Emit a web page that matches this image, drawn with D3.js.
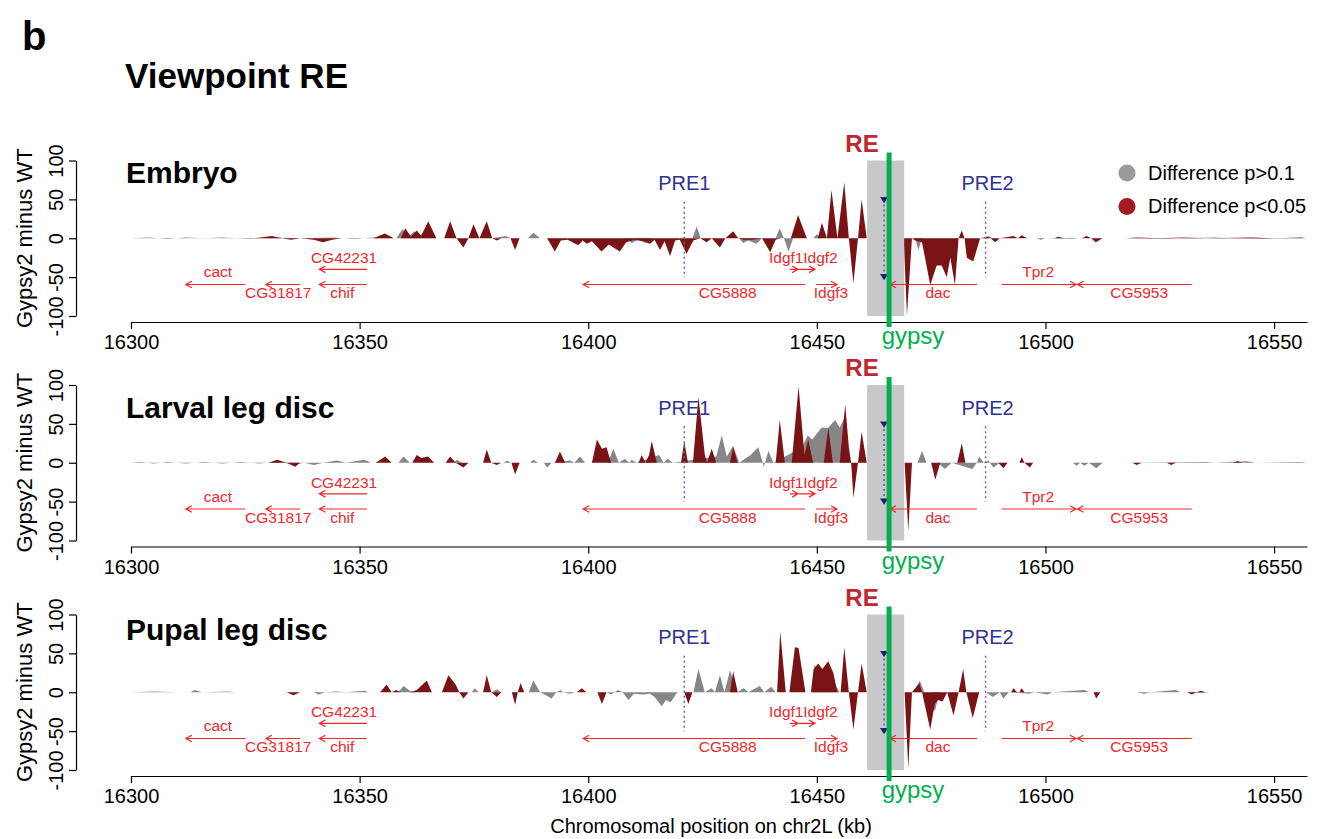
<!DOCTYPE html>
<html lang="en">
<head>
<meta charset="UTF-8">
<title>Viewpoint RE</title>
<script src="https://d3js.org/d3.v7.min.js"></script>
<style>
  body { margin: 0; background: #fff; }
  text { font-family: "Liberation Sans", Arial, sans-serif; }
</style>
</head>
<body>
<svg width="1325" height="839"></svg>
<script>
// ---------- data ----------
var panelNames = ["Embryo", "Larval leg disc", "Pupal leg disc"];
var xTicks = [16300, 16350, 16400, 16450, 16500, 16550];
var yTicks = [-100, -50, 0, 50, 100];
var legendLabels = ["Difference p>0.1", "Difference p<0.05"];

// [position kb, Gypsy2 - WT] vertices; null = no data
var embryoGrey = [[16300,0],[16304,1],[16308,-1],[16312,1],[16316,0],[16320,1],[16326,-1],[16331,1],[16338,0],[16344,1],[16349,-1],[16353,1],[16358,0],[16359.4,12],[16360.6,2],[16362,9],[16363.2,2],[16364.8,18],[16366.5,0],[16379,0],[16382,3],[16383,0],[16386.8,0],[16388,7],[16389.5,0],[16408,0],[16409.5,-6],[16411,-2],[16412.5,-6],[16414,0],[16422.8,0],[16423.7,15],[16424.6,0],[16433,0],[16433.9,-6],[16435,-3],[16436.8,-7],[16438,0],[16441,0],[16441.9,13],[16442.8,0],[16443.8,-17],[16444.8,0],[16449.2,0],[16450,5],[16451,0],[16469,0],[16471.5,0],[16472.2,-15],[16473,0],[16486.5,0],[16487.5,3],[16488.5,0],[16498,0],[16499,-2],[16500,0],[16506,-1],[16507,0],[16512.5,0],[16513,null],[16517.5,0],[16526,-1],[16529,0],[16537,1],[16540,0],[16548,-1],[16552,0],[16557,0]];
var embryoRed = [[16300,0],[16327,0],[16330.8,3],[16333,0],[16335,-2],[16337,0],[16340,-2],[16342,-5],[16344,-2],[16346,0],[16353,0],[16355.5,6],[16357.5,0],[16359,0],[16360,13],[16361.2,2],[16362.5,10],[16363.5,3],[16365,22],[16366.8,0],[16368.5,0],[16369.8,22],[16371.2,0],[16372.7,-12],[16373.8,0],[16374.9,18],[16376.2,0],[16377.8,22],[16379,0],[16380,-3],[16381,0],[16383,0],[16384,-15],[16385,0],[16391,0],[16392.7,-17],[16394,-3],[16395.5,-2],[16397.8,-9],[16398.8,-3],[16399.7,-7],[16400.8,-4],[16402.9,-17],[16404.5,-8],[16406.9,-17],[16408.3,-5],[16410,-2],[16412,-4],[16413.5,-7],[16414.5,-2],[16415.7,-15],[16416.7,-4],[16417.9,-23],[16419,-3],[16420,-2],[16421.5,-20],[16423,-3],[16424.5,0],[16425.9,-5],[16427,0],[16428.8,-12],[16430,0],[16431.7,9],[16432.8,0],[16434,-2],[16436,-2],[16438,0],[16439.8,-18],[16441,-2],[16442,0],[16444.3,0],[16445.9,30],[16447.8,0],[16450.2,0],[16451.1,20],[16452.2,0],[16453.2,62],[16454.5,0],[16456,72],[16457,0],[16458,-58],[16459,0],[16459.8,50],[16460.9,0],[16469,0],[16469.7,-99],[16470.8,0],[16471.5,-3],[16473,-5],[16474.8,-60],[16476.2,-35],[16477.3,-35],[16478.4,-50],[16479.2,-25],[16480.2,-60],[16481,0],[16481.7,10],[16482.3,0],[16482.8,-25],[16484.2,-30],[16485.7,0],[16487.2,2],[16488,0],[16489,-5],[16490,0],[16493,3],[16494,0],[16494.8,4],[16496,0],[16502,0],[16502.8,2],[16504,0],[16508,0],[16509,3],[16510,0],[16511,-5],[16512.5,0],[16513,null],[16517.5,0],[16520,1],[16525,0],[16530,1],[16535,0],[16545,1],[16550,0],[16556,1],[16557,0]];

var larvalGrey = [[16300,0],[16302,1],[16305,-1],[16308,1],[16312,-1],[16316,1],[16320,-1],[16324,1],[16328,-1],[16332,1],[16336,-2],[16338,0],[16340,-3],[16342,0],[16345,3],[16347,0],[16351,4],[16352.5,0],[16358.5,0],[16359.6,8],[16361,0],[16370.5,0],[16371.3,4],[16372.3,0],[16381.5,0],[16382.3,3],[16383,0],[16387.3,0],[16388,4],[16389,0],[16390.3,0],[16391,-6],[16392,0],[16395,2],[16396,3],[16397,0],[16398.2,8],[16399.3,0],[16404.3,0],[16405.5,18],[16406.7,0],[16408,5],[16409,0],[16409.5,4],[16410.5,0],[16415.5,10],[16416.5,0],[16417.3,5],[16418.5,0],[16428,8],[16429.2,35],[16430.3,8],[16431.7,22],[16433,0],[16435.5,10],[16437.2,20],[16438.4,-5],[16439.4,15],[16440.5,0],[16446.8,20],[16448,35],[16449,30],[16451,45],[16452.5,45],[16454,55],[16455,45],[16456.2,60],[16457,0],[16472,0],[16473,15],[16474,0],[16476.5,0],[16478,-8],[16479.5,0],[16484,-8],[16485,0],[16485.5,8],[16486.5,0],[16487.5,3],[16488.6,-6],[16490,0],[16506,0],[16506.8,-4],[16507.6,0],[16508.5,-4],[16509.5,0],[16511.1,-7],[16512.5,0],[16513,null],[16517,0],[16535,1],[16537,0],[16544,2],[16546,0],[16556,1],[16557,0]];
var larvalRed = [[16300,0],[16330,0],[16332,4],[16334,0],[16335.9,-5],[16337,0],[16353.5,0],[16355.6,8],[16357,0],[16361.5,0],[16362.5,10],[16363.5,6],[16365,8],[16366.3,0],[16368.8,0],[16369.8,8],[16371,0],[16372.7,-6],[16373.8,0],[16377,0],[16377.8,17],[16378.8,0],[16380,-3],[16381,0],[16383.2,0],[16384,-15],[16385,0],[16392.7,0],[16393.8,14],[16395,0],[16400.8,0],[16401.9,30],[16403,18],[16404,20],[16405,0],[16411,0],[16411.7,10],[16412.5,0],[16413.3,10],[16413.9,28],[16415,0],[16420.3,0],[16421,28],[16421.8,0],[16422.9,0],[16424.1,85],[16425.5,10],[16426,0],[16427,18],[16428,0],[16431,0],[16431.7,20],[16432.7,0],[16441,0],[16441.9,55],[16443,0],[16444.5,0],[16446,98],[16447.3,10],[16448.1,30],[16449.2,0],[16451.5,0],[16452.5,45],[16453.5,0],[16455,0],[16456.2,75],[16457,20],[16457.5,0],[16458,-45],[16459,0],[16459.8,40],[16460.9,0],[16469.2,0],[16470,-88],[16470.8,0],[16475,0],[16475.9,-22],[16477,0],[16480.7,0],[16481.7,25],[16482.5,0],[16489.7,0],[16490.8,-7],[16491.7,0],[16494.3,0],[16494.8,7],[16495.4,0],[16496.6,-6],[16497.3,0],[16512.5,0],[16513,null],[16517,0],[16519,0],[16520,-3],[16521,0],[16526.5,0],[16527.5,-3],[16528.5,0],[16541,0],[16542,2],[16543,0],[16557,0]];

var pupalGrey = [[16300,0],[16305,1],[16310,0],[16313,0],[16314,3],[16315.5,0],[16321,1],[16323,0],[16340,0],[16341,-3],[16342.5,0],[16345,1],[16347,0],[16351,2],[16352,0],[16358.5,0],[16359.6,8],[16361,2],[16362,0],[16374.5,0],[16375.2,5],[16376,0],[16379,0],[16380,4],[16381,0],[16387,0],[16388,15],[16389.5,0],[16390.5,-3],[16392,-8],[16393,0],[16394,3],[16394.5,0],[16396,-2],[16397,0],[16404,0],[16405,-3],[16406.5,3],[16407.5,0],[16408.8,-10],[16410,-2],[16412,-3],[16413.5,-2],[16414.5,-6],[16416.1,-18],[16417,-10],[16418,-13],[16419.5,0],[16423,0],[16424.1,30],[16425.5,0],[16427,5],[16427.7,0],[16428.8,22],[16429.8,0],[16431,28],[16432.6,0],[16434,5],[16435,0],[16437.5,8],[16438.5,0],[16440,7],[16441,0],[16449,0],[16449.5,35],[16451,25],[16453,20],[16455,0],[16471.5,0],[16472.5,15],[16473.5,0],[16474.8,0],[16475.8,-25],[16476.8,0],[16487,0],[16488.5,-6],[16490,0],[16490.8,-8],[16492,0],[16496.6,-2],[16497.5,0],[16500.5,-3],[16501.5,0],[16508.5,3],[16509.5,0],[16512.5,0],[16513,null],[16517,0],[16520,0],[16521.5,-2],[16523,0],[16528.5,3],[16529.5,0],[16534.5,-1],[16536,0],[16557,0]];
var pupalRed = [[16300,0],[16334,0],[16335.5,-4],[16337,0],[16354.5,0],[16355.9,10],[16357,0],[16358,3],[16359,0],[16361,0],[16362.5,3],[16364.7,15],[16365.8,0],[16368,0],[16369.4,22],[16371,10],[16371.8,0],[16372.7,-8],[16373.8,0],[16377,0],[16377.8,22],[16378.8,0],[16380,-6],[16381,0],[16383.3,0],[16384,-16],[16384.6,0],[16385.2,12],[16386,0],[16397.5,0],[16398.6,5],[16399.6,0],[16402,0],[16403,-15],[16404,0],[16421,0],[16421.9,-15],[16422.8,0],[16431,0],[16431.7,27],[16432.7,0],[16441.3,0],[16442,78],[16443.2,0],[16444,0],[16445.2,58],[16446,57],[16447.5,0],[16448.7,0],[16449.3,30],[16450.3,37],[16451.2,30],[16452.5,40],[16453.6,25],[16454.5,0],[16455.2,0],[16456,58],[16457,0],[16458,-48],[16459,0],[16459.8,37],[16460.9,0],[16469.2,0],[16470,-98],[16470.8,0],[16471.5,5],[16472.4,12],[16473,0],[16474.8,-48],[16475.8,-15],[16476.5,-10],[16477.5,-12],[16478.5,0],[16479.9,-30],[16481,0],[16482,30],[16482.7,0],[16484.1,-33],[16485.5,0],[16492.5,0],[16493,5],[16493.8,0],[16494.3,0],[16494.8,5],[16495.4,0],[16510.5,0],[16511.1,-8],[16512,0],[16512.5,0],[16513,null],[16517,0],[16531,0],[16532,-3],[16533,0],[16534,2],[16535,0],[16557,0]];

var greySeries = [embryoGrey, larvalGrey, pupalGrey];
var redSeries = [embryoRed, larvalRed, pupalRed];

// genes (kb)
var geneNames  = ["cact","CG31817","chif","CG42231","CG5888","Idgf1","Idgf2","Idgf3","dac","Tpr2","CG5953"];
var geneStart  = [16312.0,16329.5,16341.2,16341.2,16398.9,16444.1,16446.1,16449.8,16466.0,16490.4,16507.0];
var geneEnd    = [16325.0,16337.0,16351.6,16351.6,16447.4,16445.9,16449.6,16454.4,16485.0,16506.7,16532.0];
var geneStrand = [-1,-1,-1,-1,-1,1,1,1,-1,1,-1];
var geneRow    = [2,2,2,1,2,1,1,2,2,2,2];
var geneLabelX = [16319.0,16332.2,16346.2,16346.6,16430.5,16443.3,16450.8,16453.1,16476.5,16498.4,16520.5];
var geneLabelSide = ["above","below","below","above","below","above","above","below","below","above","below"];

var preNames = ["PRE1", "PRE2"];
var prePos = [16421.0, 16486.9];
var rePos = 16464.7, reStart = 16461.0, reEnd = 16469.1, gypsyPos = 16465.8;

// ---------- layout ----------
var svg = d3.select("svg");
var font = '"Liberation Sans", Arial, sans-serif';
var panelTop = [160.5, 385, 614.5];
var panelH = 155.5;
var titleBase = [183, 418, 640];
var x = d3.scaleLinear().domain([16300, 16557.2]).range([131, 1307]);

var cGrey = "#868686", cRed = "#7a1315", cGene = "#f0282d", cNavy = "#2e3192", cGreen = "#00b04f";

svg.append("text").attr("x", 22).attr("y", 50).attr("font-size", 40).attr("font-weight", "bold").text("b");
svg.append("text").attr("x", 125).attr("y", 88).attr("font-size", 35).attr("font-weight", "bold").text("Viewpoint RE");

panelNames.forEach(function (name, p) {
    var top = panelTop[p];
    var y = d3.scaleLinear().domain([-100, 100]).range([top + panelH, top]);
    var axisY = top + panelH + 6;
    var g = svg.append("g");

    var area = d3.area()
        .defined(function (d) { return d[1] !== null; })
        .x(function (d) { return x(d[0]); })
        .y0(y(0))
        .y1(function (d) { return y(d[1]); });

    g.append("path").attr("d", area(greySeries[p])).attr("fill", cGrey);
    g.append("path").attr("d", area(redSeries[p])).attr("fill", cRed);

    // viewpoint box
    g.append("rect").attr("x", x(reStart)).attr("y", y(100))
        .attr("width", x(reEnd) - x(reStart)).attr("height", y(-100) - y(100))
        .attr("fill", "#c8c8ca");

    // PRE dotted lines
    preNames.forEach(function (n, i) {
        g.append("line").attr("x1", x(prePos[i])).attr("x2", x(prePos[i]))
            .attr("y1", y(47)).attr("y2", y(-50))
            .attr("stroke", "#6a6a9c").attr("stroke-width", 1.5).attr("stroke-dasharray", "2,3");
        g.append("text").attr("x", x(prePos[i]) + (i ? 2 : 0)).attr("y", y(62))
            .attr("text-anchor", "middle").attr("font-size", 20).attr("fill", cNavy).text(n);
    });

    // RE dotted line with triangles
    var rx = x(rePos);
    g.append("line").attr("x1", rx).attr("x2", rx).attr("y1", y(50)).attr("y2", y(-50))
        .attr("stroke", "#4a4a8a").attr("stroke-width", 1.3).attr("stroke-dasharray", "2,3");
    [[53, 45], [-46, -54]].forEach(function (t) {
        g.append("path")
            .attr("d", "M" + (rx - 4) + "," + y(t[0]) + "L" + (rx + 4) + "," + y(t[0]) + "L" + rx + "," + y(t[1]) + "Z")
            .attr("fill", "#1f1f6e");
    });

    // genes
    var rowV = {1: -40, 2: -59.5};
    geneNames.forEach(function (gn, i) {
        var gy = y(rowV[geneRow[i]]);
        var xs = x(geneStart[i]), xe = x(geneEnd[i]);
        var tip = geneStrand[i] > 0 ? xe : xs;
        var back = geneStrand[i] > 0 ? -6 : 6;
        g.append("path")
            .attr("d", "M" + xs + "," + gy + "L" + xe + "," + gy +
                "M" + (tip + back) + "," + (gy - 3.3) + "L" + tip + "," + gy + "L" + (tip + back) + "," + (gy + 3.3))
            .attr("fill", "none").attr("stroke", cGene).attr("stroke-width", 1.2);
        var ly;
        if (geneLabelSide[i] === "below") ly = y(-77);
        else ly = geneRow[i] === 1 ? y(-32) : y(-50);
        g.append("text").attr("x", x(geneLabelX[i])).attr("y", ly)
            .attr("text-anchor", "middle").attr("font-size", 15.5).attr("fill", cGene).text(gn);
    });

    // axes
    var xa = g.append("g").attr("transform", "translate(0," + axisY + ")")
        .call(d3.axisBottom(x).tickValues(xTicks).tickSize(7).tickSizeOuter(0).tickFormat(function (d) { return String(d); }));
    xa.selectAll("text").attr("font-size", 20).attr("font-family", font).attr("y", 13).attr("dy", "0.71em").attr("fill", "#000");
    xa.selectAll("line,path").attr("stroke", "#000").attr("stroke-width", 1.2);

    var ya = g.append("g").attr("transform", "translate(76,0)")
        .call(d3.axisLeft(y).tickValues(yTicks).tickSize(7).tickSizeOuter(0).tickFormat(function (d) { return String(d); }));
    ya.selectAll("text").attr("font-size", 20).attr("font-family", font)
        .attr("transform", "rotate(-90)").attr("x", 0).attr("y", -13).attr("dy", 0)
        .attr("text-anchor", "middle").attr("fill", "#000");
    ya.selectAll("line,path").attr("stroke", "#000").attr("stroke-width", 1.2);

    g.append("text").attr("transform", "translate(32," + y(0) + ") rotate(-90)")
        .attr("text-anchor", "middle").attr("font-size", 22).text("Gypsy2 minus WT");

    // titles and markers
    g.append("text").attr("x", 126).attr("y", titleBase[p]).attr("font-size", 30).attr("font-weight", "bold").text(name);
    g.append("text").attr("x", 862).attr("y", top - 9).attr("text-anchor", "middle")
        .attr("font-size", 24).attr("font-weight", "bold").attr("fill", "#c1272d").text("RE");
    g.append("line").attr("x1", x(gypsyPos)).attr("x2", x(gypsyPos))
        .attr("y1", top - 8).attr("y2", axisY + 5).attr("stroke", cGreen).attr("stroke-width", 5);
    g.append("text").attr("x", 913).attr("y", axisY + 22).attr("text-anchor", "middle")
        .attr("font-size", 24).attr("fill", cGreen).text("gypsy");
});

// legend
var legColors = ["#9a9a9a", "#a31a20"];
legendLabels.forEach(function (l, i) {
    svg.append("circle").attr("cx", 1127).attr("cy", 173 + i * 33.5).attr("r", 8.5).attr("fill", legColors[i]);
    svg.append("text").attr("x", 1148).attr("y", 179.5 + i * 33.5).attr("font-size", 20).text(l);
});

svg.append("text").attr("x", 711).attr("y", 833).attr("text-anchor", "middle")
    .attr("font-size", 20).text("Chromosomal position on chr2L (kb)");
</script>
</body>
</html>
